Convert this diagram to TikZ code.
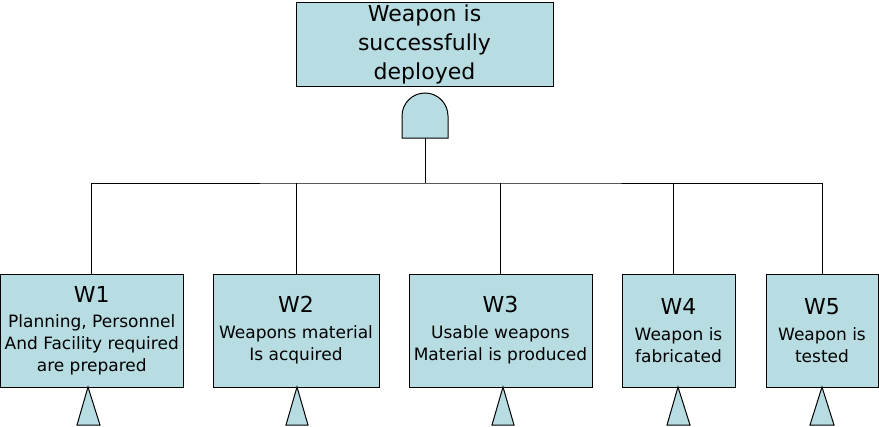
\documentclass[tikz,border=0pt]{standalone}
\usepackage{fontspec}
\setmainfont{DejaVu Sans}
\definecolor{fc}{RGB}{183,221,226}
\newcommand{\topfont}{\fontsize{16.5}{21.8}\selectfont}
\newcommand{\bodyfont}{\fontsize{12.75}{16.5}\selectfont}
\newcommand{\wfont}{\fontsize{16.5}{18}\selectfont}
\begin{document}
\begin{tikzpicture}[x=0.75pt,y=0.75pt,line width=0.75pt,
  box/.style={draw=black,fill=fc,align=center,inner sep=0pt,font=\bodyfont,minimum height=84.75pt},
  topbox/.style={draw=black,fill=fc,align=center,inner sep=0pt,font=\topfont,minimum width=192.75pt,minimum height=63pt},
  gatestyle/.style={draw=black,fill=fc},
  tri/.style={draw=black,fill=fc}]
\useasboundingbox (0,0) rectangle (879,426);
\node[topbox] (top) at (424.5,381.5) {Weapon is\\successfully\\deployed};
% AND gate
\coordinate (gbot) at (425,288);
\path[gatestyle] (402,288) -- (402,310) arc (180:0:23) -- (448,288) -- cycle;
\coordinate (bar) at (425,243);
\node[box,minimum width=136.9pt] (w1) at (91.75,95.5) {{\wfont W1}\\[2pt]Planning, Personnel\\And Facility required\\are prepared};
\node[box,minimum width=124.5pt] (w2) at (296,95.5) {{\wfont W2}\\[3pt]Weapons material\\Is acquired};
\node[box,minimum width=137.25pt] (w3) at (500.5,95.5) {{\wfont W3}\\[3pt]Usable weapons\\Material is produced};
\node[box,minimum width=84.75pt] (w4) at (678.5,95.5) {{\wfont W4}\\[3pt]Weapon is\\fabricated};
\node[box,minimum width=84pt] (w5) at (822,95.5) {{\wfont W5}\\[3pt]Weapon is\\tested};
% connectors
\draw (gbot) -- (bar);
\draw (w1.north) |- (bar) -| (w5.north);
\draw (w2.north) -- (w2.north |- bar);
\draw (w3.north) -- (w3.north |- bar);
\draw ([xshift=-3.4pt]w4.north) -- ([xshift=-3.4pt]w4.north |- bar);
% transfer triangles
\path[tri] (88,39) -- (77,1) -- (100,1) -- cycle;
\path[tri] (297,39) -- (286,1) -- (308,1) -- cycle;
\path[tri] (503,39) -- (492,1) -- (514,1) -- cycle;
\path[tri] (678,39) -- (667,1) -- (690,1) -- cycle;
\path[tri] (822,39) -- (810,1) -- (834,1) -- cycle;
\end{tikzpicture}
\end{document}
